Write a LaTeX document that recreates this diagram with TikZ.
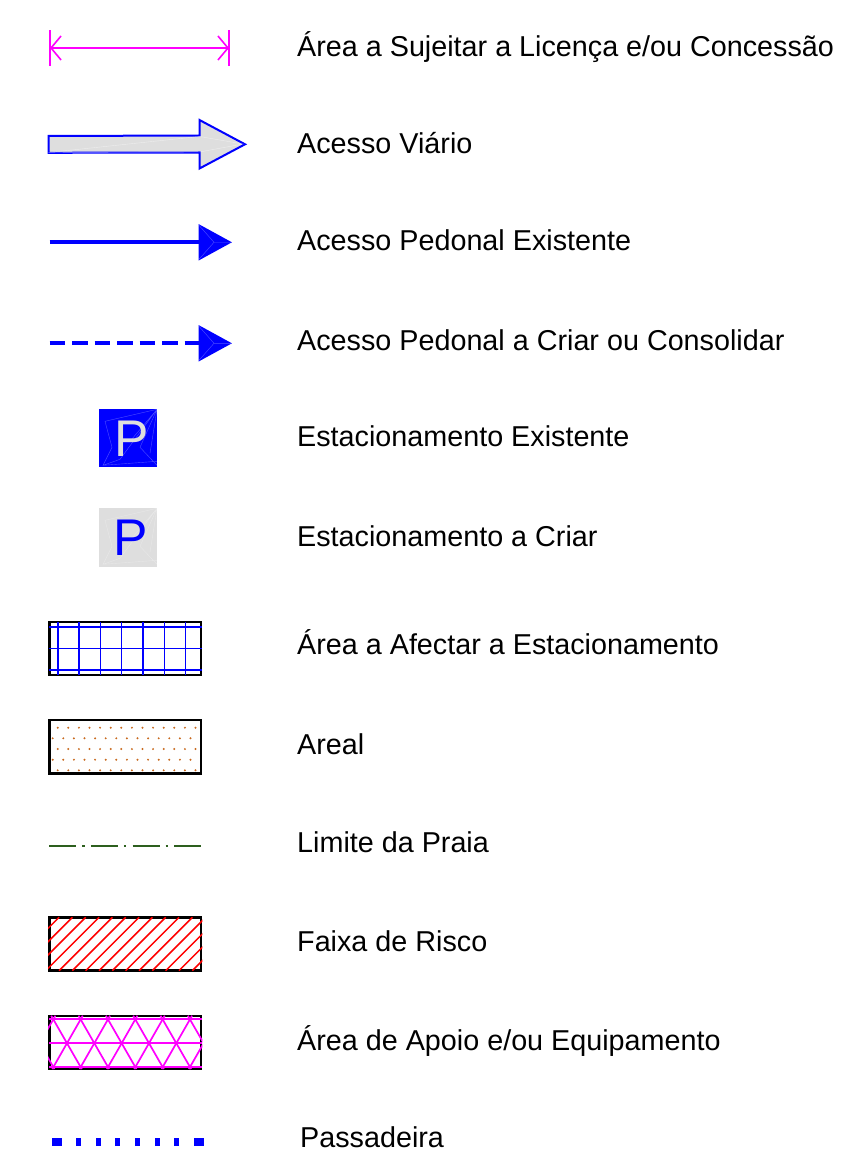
\documentclass[tikz,border=0pt]{standalone}
\usepackage{fontspec}
\setmainfont{Liberation Sans}
\usetikzlibrary{arrows.meta}
\definecolor{traco}{RGB}{0,0,255}
\definecolor{cinza}{RGB}{222,222,222}
\definecolor{magenta2}{RGB}{255,0,255}
\definecolor{verde}{RGB}{45,95,30}
\definecolor{areia}{RGB}{200,105,30}

\begin{document}
\begin{tikzpicture}[x=1pt,y=-1pt]
        \useasboundingbox (0,0) rectangle (865,1155);
        \begin{scope}[every node/.style={anchor=base west,inner sep=0,font=\fontsize{28.74}{32}\selectfont}]
                \node (L1) at (297,56.7) {Área a Sujeitar a Licença e/ou Concessão};
                \node (L2) at (297,153.7) {Acesso Viário};
                \node (L3) at (297,250.7) {Acesso Pedonal Existente};
                \node (L4) at (297,350.9) {Acesso Pedonal a Criar ou Consolidar};
                \node (L5) at (297,446.9) {Estacionamento Existente};
                \node (L6) at (297,546.9) {Estacionamento a Criar};
                \node (L7) at (297,654.9) {Área a Afectar a Estacionamento};
                \node (L8) at (297,754.9) {Areal};
                \node (L9) at (297,852.9) {Limite da Praia};
                \node (L10) at (297,951.9) {Faixa de Risco};
                \node (L11) at (297,1050.9) {Área de Apoio e/ou Equipamento};
                \node (L12) at (300,1147.9) {Passadeira};
        \end{scope}

        \coordinate (D1) at (50,48);
        \coordinate (D2) at (229,48);
        \draw[magenta2,line width=1.6pt,{Straight Barb[length=10pt,width=24pt]}-{Straight Barb[length=10pt,width=24pt]}] (D1) -- (D2);
        \fill[magenta2] (49,30.5) rectangle (51,66);
        \fill[magenta2] (228.1,30.5) rectangle (229.9,66);

        \draw[traco,fill=cinza,line width=2pt] (48.5,136) -- (199.5,135.5) -- (199.5,120) -- (245,144.3) -- (199.5,168.5) -- (199.5,152.5) -- (48.5,152.8) -- cycle;
        \draw[white,opacity=0.5,line width=0.4pt] (48.5,152.5) -- (199.5,136.5) -- (243,144) -- (199.5,152) -- cycle;

        \begin{scope}[every path/.style={traco,line width=4pt,-{Triangle[length=33.5pt,width=35.5pt]}}]
                \coordinate (S1) at (49.5,242.3);
                \coordinate (E1) at (232,242.3);
                \coordinate (S2) at (49.5,343.3);
                \coordinate (E2) at (232,343.3);
                \path (S1) edge (E1);
                \path (S2) edge[dash pattern=on 15.5pt off 7pt] (E2);
        \end{scope}
        \foreach \ya in {242.3,343.3}
                \draw[white,opacity=0.3,line width=0.4pt] (199,\ya-17) -- (214,\ya) -- (199,\ya+17) (214,\ya) -- (231,\ya);

        \begin{scope}[every node/.style={minimum size=58.3pt,inner sep=0}]
                \node[fill=traco] (Q1) at (128.2,438.3) {};
                \node[fill=cinza] (Q2) at (128.2,537.5) {};
        \end{scope}
        \foreach \ya in {409.3,508.3}
                \draw[white,opacity=0.3,line width=0.4pt] (157,\ya) -- (105,\ya+12) -- (112,\ya+38) -- (103,\ya+56) -- (157,\ya+52)
                        (157,\ya) -- (130,\ya+32) (157,\ya) -- (140,\ya+38) -- (157,\ya+56) (157,\ya) -- (150,\ya+44) (157,\ya) -- (120,\ya+50) -- (103,\ya+56);
        \begin{scope}[every node/.style={anchor=base west,inner sep=0,font=\fontsize{51.6}{52}\selectfont}]
                \node[text=cinza] (P1) at (114.4,456.7) {P};
                \node[text=traco] (P2) at (113.6,555.7) {P};
        \end{scope}

        \begin{scope}[every node/.style={draw=black,line width=2.4pt,minimum width=151.8pt,minimum height=53.3pt,inner sep=0}]
                \node (B1) at (125.2,648.5) {};
                \node (B2) at (125.2,746.7) {};
                \node (B3) at (125.2,944) {};
                \node (B4) at (125.2,1042.4) {};
        \end{scope}

        \begin{scope}
                \clip (B1.south west) rectangle (B1.north east);
                \foreach \i in {0,...,6}
                        \draw[traco,line width=1.6pt] (57.7+21.33*\i,622) -- (57.7+21.33*\i,675);
                \foreach \ya in {626.7,648.3,670}
                        \draw[traco,line width=1.6pt] (49,\ya) -- (202,\ya);
        \end{scope}

        \foreach \i in {0,...,13} {
                \foreach \ya in {727.7,749,770.3}
                        \fill[areia] (57.7+10.6*\i,\ya) circle (1.1pt);
                \foreach \ya in {738.3,759.7}
                        \fill[areia] (52.7+10.6*\i,\ya) circle (1.1pt);
        }

        \coordinate (M1) at (49.3,845.7);
        \coordinate (M2) at (201.3,845.7);
        \draw[verde,line width=1.8pt,dash pattern=on 27pt off 6pt on 2.2pt off 6.4pt] (M1) -- (M2);

        \begin{scope}
                \clip (B3.south west) rectangle (B3.north east);
                \foreach \i in {-4,...,14}
                        \draw[red,line width=1.5pt] (59+13.33*\i,970.7) -- (59+13.33*\i+53.4,917.3);
        \end{scope}

        \begin{scope}
                \clip (B4.south west) rectangle (B4.north east);
                \foreach \ya in {1019.3,1043.3,1067}
                        \draw[magenta2,line width=1.8pt] (49,\ya) -- (202,\ya);
                \foreach \i in {-1,...,6}
                        \draw[magenta2,line width=1.7pt] (51.2+27.33*\i,1015.7) -- (81.8+27.33*\i,1069);
                \foreach \i in {0,...,7}
                        \draw[magenta2,line width=1.7pt] (55.4+27.33*\i,1015.7) -- (24.9+27.33*\i,1069);
        \end{scope}

        \foreach \xa/\xb in {52.3/61.7,76/81,95.7/100.7,115.3/120.3,135/140,154.7/159.7,174.3/179.3,194.3/204}
                \fill[traco] (\xa,1138) rectangle (\xb,1146);
\end{tikzpicture}
\end{document}
